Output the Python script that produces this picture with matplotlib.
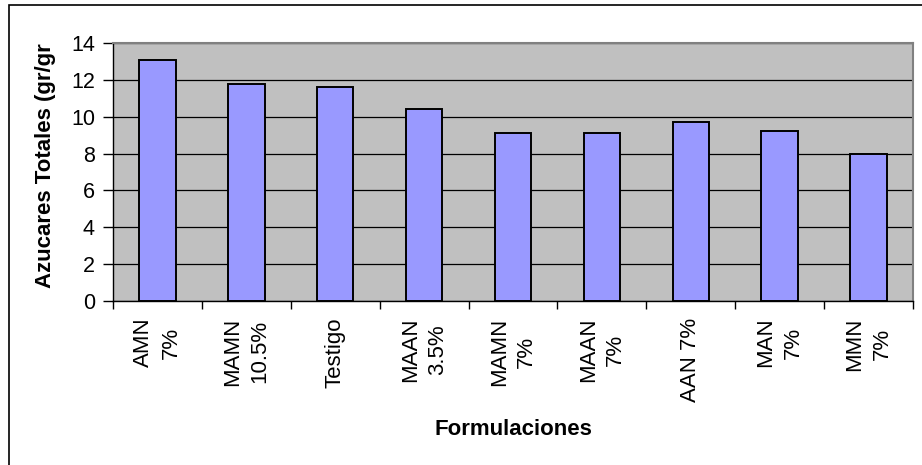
import matplotlib.pyplot as plt
from matplotlib.patches import Rectangle
import numpy as np

# Formulation names and total sugar content
formulaciones = ['AMN\n7%', 'MAMN\n10.5%', 'Testigo', 'MAAN\n3.5%', 'MAMN\n7%',
                 'MAAN\n7%', 'AAN 7%', 'MAN\n7%', 'MMN\n7%']
azucares = [13.1, 11.8, 11.6, 10.4, 9.1, 9.1, 9.7, 9.2, 8.0]
y_ticks = [0, 2, 4, 6, 8, 10, 12, 14]

plt.rcParams['font.family'] = ['Liberation Sans', 'DejaVu Sans']

fig = plt.figure(figsize=(9.22, 4.65), dpi=100)
ax = fig.add_axes([113 / 922, 1 - 301 / 465, 800 / 922, 258 / 465])

# outer chart frame
fig.patches.append(Rectangle((9 / 922, -0.1), 1.2, 1 - 5 / 465 + 0.1,
                             transform=fig.transFigure, fill=False,
                             edgecolor='black', linewidth=1.2))

x = np.arange(len(formulaciones))
ax.set_facecolor('#C0C0C0')
ax.bar(x, azucares, width=0.41, color='#9999FF', edgecolor='black',
       linewidth=1.4, zorder=3)

ax.set_xlim(-0.5, len(formulaciones) - 0.5)
ax.set_ylim(0, 14)
ax.set_yticks(y_ticks)
ax.yaxis.grid(True, color='black', linewidth=0.9, zorder=1)
ax.set_axisbelow(True)

# ticks on category boundaries, labels on centers
ax.set_xticks(np.arange(len(formulaciones) + 1) - 0.5)
ax.set_xticklabels([])
ax.set_xticks(x, minor=True)
ax.set_xticklabels(formulaciones, minor=True, rotation=90, fontsize=16,
                   multialignment='center', linespacing=1.4)
ax.tick_params(axis='x', which='major', length=6, width=1, color='black')
ax.tick_params(axis='x', which='minor', length=0, pad=12)
ax.tick_params(axis='y', length=7, width=1, pad=6, labelsize=15.5)

for side in ['top', 'right']:
    ax.spines[side].set_color('#808080')
    ax.spines[side].set_linewidth(1.5)
for side in ['left', 'bottom']:
    ax.spines[side].set_color('black')
    ax.spines[side].set_linewidth(1)

fig.text(46 / 922, 1 - 166 / 465, 'Azucares Totales (gr/gr', rotation=90,
         ha='center', va='center', fontsize=16, fontweight='bold')
fig.text(513 / 922, 1 - 429 / 465, 'Formulaciones', ha='center', va='center',
         fontsize=16, fontweight='bold')

fig.savefig('out.png', dpi=100)
